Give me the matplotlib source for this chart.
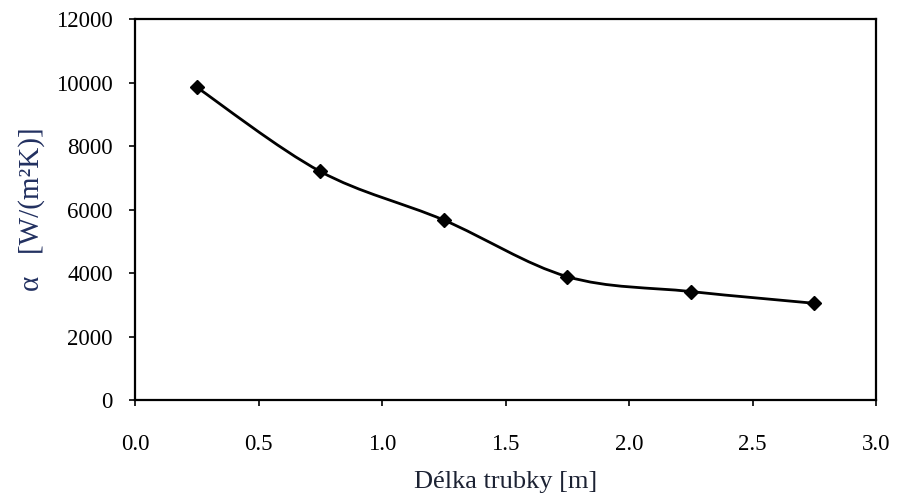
import numpy as np
import matplotlib
matplotlib.use("Agg")
import matplotlib.pyplot as plt
from matplotlib.path import Path
from matplotlib.patches import PathPatch

plt.rcParams["font.family"] = ["Liberation Serif", "DejaVu Serif"]

# data
delka = [0.25, 0.75, 1.25, 1.75, 2.25, 2.75]
alfa = [9850, 7200, 5670, 3890, 3420, 3050]
xticks = [0.0, 0.5, 1.0, 1.5, 2.0, 2.5, 3.0]
yticks = [0, 2000, 4000, 6000, 8000, 10000, 12000]

fig = plt.figure(figsize=(9.06, 4.99), dpi=100)
ax = fig.add_axes([0.149, 0.198, 0.818, 0.764])

# Excel-like smoothed line: Catmull-Rom -> cubic Bezier through the points
P = np.column_stack([delka, alfa]).astype(float)
verts, codes = [P[0]], [Path.MOVETO]
for i in range(len(P) - 1):
    p0 = P[max(i - 1, 0)]; p1 = P[i]; p2 = P[i + 1]; p3 = P[min(i + 2, len(P) - 1)]
    verts += [p1 + (p2 - p0) / 6, p2 - (p3 - p1) / 6, p2]
    codes += [Path.CURVE4] * 3
ax.add_patch(PathPatch(Path(verts, codes), facecolor="none", edgecolor="black", lw=2.0))
ax.plot(delka, alfa, ls="none", marker="D", ms=7.5, color="black")

ax.set_xlim(0, 3.0); ax.set_ylim(0, 12000)
ax.set_xticks(xticks); ax.set_yticks(yticks)
ax.set_xticklabels([f"{t:.1f}" for t in xticks])
ax.tick_params(direction="out", length=4, width=1.2, labelsize=16.5, pad=12)
ax.tick_params(axis="x", pad=20)
for s in ax.spines.values():
    s.set_linewidth(1.6)

ax.set_xlabel("Délka trubky [m]", fontsize=19, color="#1c2233", labelpad=12)
ax.set_ylabel("α   [W/(m²K)]", fontsize=21, color="#223060", labelpad=8)

fig.savefig("out.png", dpi=100)
